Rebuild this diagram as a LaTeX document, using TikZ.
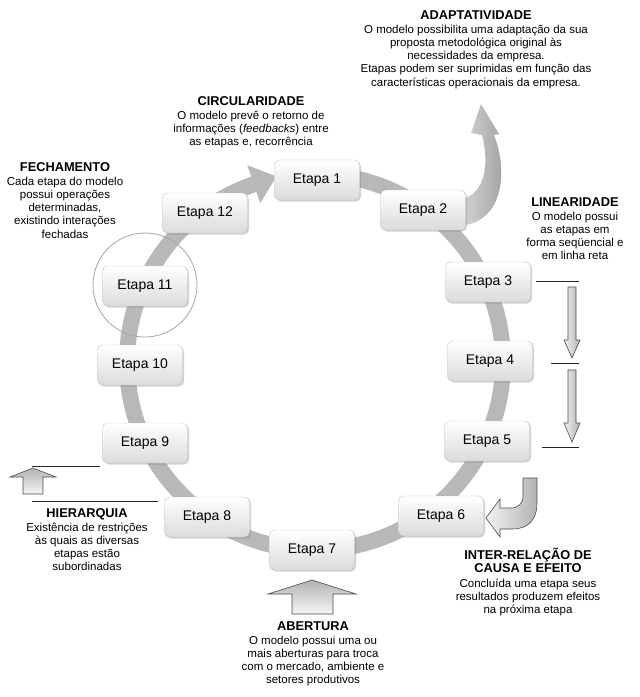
\documentclass[tikz,border=0pt]{standalone}
\usepackage{fontspec}
\setmainfont{Liberation Sans}
\usetikzlibrary{shadows,calc}
\begin{document}
\begin{tikzpicture}[x=1pt,y=-1pt,
  etapa/.style={draw=gray!45, rounded corners=5pt, minimum width=85pt, minimum height=40pt,
    top color=white, bottom color=gray!28,
    drop shadow={opacity=0.35, shadow xshift=1.5pt, shadow yshift=-1.5pt},
    font=\fontsize{14}{16}\selectfont},
  desc/.style={align=center, anchor=north, inner sep=0pt, font=\fontsize{11.5}{13.2}\selectfont},
  ringc/.style={black!28},
  hollow/.style={draw=gray!60!black, line width=0.6pt, left color=gray!10, right color=gray!60},
  hollowv/.style={draw=gray!60!black, line width=0.6pt, top color=gray!60, bottom color=gray!8},
  rulel/.style={draw=black!85, line width=0.8pt}
]
\newcommand{\ttlf}{\bfseries\fontsize{12.8}{14.5}\selectfont}
\useasboundingbox (0,0) rectangle (640,697);
\fill[white] (0,0) rectangle (640,697);

% ring
\draw[ringc, line width=16pt] (315,362) ++(-95:188) arc[start angle=-95, end angle=251, radius=188];
\fill[ringc] (247.3,165.3) -- (276.5,176.4) -- (260.3,203.1) -- cycle;

% adaptatividade arrow
\path[left color=black!14, right color=black!38] (455,200) .. controls (485,199) and (490,165) .. (482,135) -- (471,133) -- (481,104) -- (499,134) -- (494,135) .. controls (508,170) and (505,226) .. (455,226) -- cycle;

% etapas
\node[etapa] (e1) at (317,180) {Etapa 1};
\node[etapa] (e2) at (423,210) {Etapa 2};
\node[etapa] (e3) at (488,282) {Etapa 3};
\node[etapa] (e4) at (490,361) {Etapa 4};
\node[etapa] (e5) at (487,441) {Etapa 5};
\node[etapa] (e6) at (441,516) {Etapa 6};
\node[etapa] (e7) at (312,550) {Etapa 7};
\node[etapa] (e8) at (207,517) {Etapa 8};
\node[etapa] (e9) at (145,443) {Etapa 9};
\node[etapa] (e10) at (140,365) {Etapa 10};
\node[etapa] (e11) at (145,286) {Etapa 11};
\node[etapa] (e12) at (205,213) {Etapa 12};

% fechamento circle
\draw[gray!70, line width=0.8pt] (145,285) circle[radius=52];

% linearidade
\draw[rulel] (536,281) -- (579,281);
\draw[rulel] (551,363) -- (579,363);
\draw[rulel] (542,447) -- (579,447);
\path[hollow] (568,287) -- (576,287) -- (576,340) -- (580,340) -- (572,358) -- (564,340) -- (568,340) -- cycle;
\path[hollow] (568,370) -- (576,370) -- (576,423) -- (580,423) -- (572,442) -- (564,423) -- (568,423) -- cycle;

% inter-relacao hook
\path[hollow] (523,478) -- (537,478) -- (537,503) .. controls (537,520) and (528,529) .. (512,529) -- (500,529) -- (500,537) -- (486,518) -- (500,499) -- (500,508) -- (510,508) .. controls (518,508) and (523,504) .. (523,496) -- cycle;

% hierarquia
\draw[rulel] (32,466) -- (100,466);
\draw[rulel] (32,501) -- (158,501);
\path[hollowv] (33,468) -- (56,477) -- (43,477) -- (43,494) -- (23,494) -- (23,477) -- (10,477) -- cycle;

% abertura
\path[hollowv] (312,580) -- (356,594) -- (333,594) -- (333,614) -- (292,614) -- (292,594) -- (268,594) -- cycle;

% texts
\node[desc] (tadapt) at (476,10) {{\ttlf ADAPTATIVIDADE}\\[1pt]
O modelo possibilita uma adaptação da sua\\
proposta metodológica original às\\
necessidades da empresa.\\
Etapas podem ser suprimidas em função das\\
características operacionais da empresa.};

\node[desc] (tcirc) at (251,96) {{\ttlf CIRCULARIDADE}\\[1pt]
O modelo prevê o retorno de\\
informações (\textit{feedbacks}) entre\\
as etapas e, recorrência};

\node[desc] (tfech) at (65,162) {{\ttlf FECHAMENTO}\\[1pt]
Cada etapa do modelo\\
possui operações\\
determinadas,\\
existindo interações\\
fechadas};

\node[desc] (tlin) at (575,197) {{\ttlf LINEARIDADE}\\[1pt]
O modelo possui\\
as etapas em\\
forma seqüencial e\\
em linha reta};

\node[desc] (tinter) at (528,548) {{\ttlf INTER-RELAÇÃO DE}\\
{\ttlf CAUSA E EFEITO}\\[1pt]
Concluída uma etapa seus\\
resultados produzem efeitos\\
na próxima etapa};

\node[desc] (thier) at (87,508) {{\ttlf HIERARQUIA}\\[1pt]
Existência de restrições\\
às quais as diversas\\
etapas estão\\
subordinadas};

\node[desc] (tabert) at (313,621) {{\ttlf ABERTURA}\\[1pt]
O modelo possui uma ou\\
mais aberturas para troca\\
com o mercado, ambiente e\\
setores produtivos};
\end{tikzpicture}
\end{document}
